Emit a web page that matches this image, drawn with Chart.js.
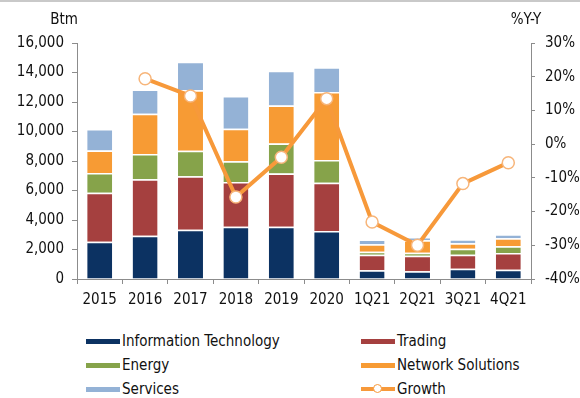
<!DOCTYPE html>
<html>
<head>
<meta charset="utf-8">
<script src="https://cdn.jsdelivr.net/npm/chart.js@4.4.1/dist/chart.umd.min.js"></script>
<style>
  html, body { margin: 0; padding: 0; background: #fff; overflow: hidden; }
  body { width: 580px; height: 398px; position: relative; border-top: 2px solid #c9c9c9; box-sizing: border-box; }
  #wrap { position: absolute; left: 0; top: 0; width: 580px; height: 317px; }
  #legend { position: absolute; left: 86px; top: 327px; display: grid; grid-template-columns: 275px 200px;
            font-family: 'DejaVu Sans Condensed', 'DejaVu Sans', sans-serif; font-size: 15px; color: #111; }
  .item { height: 24px; display: flex; align-items: center; }
  .sw { width: 34px; height: 5px; margin-right: 2px; position: relative; }
  .dot { position: absolute; left: 12px; top: -3px; width: 7px; height: 7px; border-radius: 50%;
         background: #fff; border: 1px solid #f7993a; }
</style>
</head>
<body>
<div id="wrap"><canvas id="mixchart"></canvas></div>
<div id="legend"></div>
<script>
const labels = ['2015', '2016', '2017', '2018', '2019', '2020', '1Q21', '2Q21', '3Q21', '4Q21'];

// revenue by segment, Btm
const infoTech = [2530, 2940, 3340, 3550, 3550, 3250, 600, 520, 700, 630];
const trading = [3320, 3820, 3620, 3030, 3610, 3280, 1050, 1060, 950, 1130];
const energy = [1340, 1710, 1740, 1400, 2020, 1540, 200, 200, 400, 460];
const networkSolutions = [1530, 2740, 4090, 2210, 2590, 4610, 500, 840, 370, 540];
const services = [1450, 1630, 1940, 2220, 2350, 1670, 320, 230, 270, 270];

// growth, %Y-Y
const growth = [null, 19.4, 14.3, -15.7, -3.9, 13.5, -23.1, -30.0, -11.7, -5.5];

const FONT = "'DejaVu Sans Condensed', 'DejaVu Sans', sans-serif";
const TEXT = '#111111';
const AXIS = '#8c8c8c';

function barSet(label, values, color) {
  return {
    type: 'bar',
    label: label,
    data: values,
    backgroundColor: color,
    borderColor: '#ffffff',
    borderWidth: { top: 1.5, bottom: 0, left: 0, right: 0 },
    borderSkipped: false,
    yAxisID: 'y',
    stack: 'rev',
    order: 1,
    barPercentage: 0.55,
    categoryPercentage: 1
  };
}

// unit captions above each y axis
const unitLabels = {
  id: 'unitLabels',
  afterDraw(chart) {
    const ctx = chart.ctx;
    const area = chart.chartArea;
    ctx.save();
    ctx.font = '15px ' + FONT;
    ctx.fillStyle = TEXT;
    ctx.textAlign = 'center';
    ctx.textBaseline = 'middle';
    ctx.fillText('Btm', area.left - 13, 18);
    ctx.fillText('%Y-Y', area.right - 5, 18);
    ctx.restore();
  }
};

const ctx = document.getElementById('mixchart').getContext('2d');
const chart = new Chart(ctx, {
  data: {
    labels: labels,
    datasets: [
      barSet('Information Technology', infoTech, '#0c3262'),
      barSet('Trading', trading, '#a5403f'),
      barSet('Energy', energy, '#86a34a'),
      barSet('Network Solutions', networkSolutions, '#f79b34'),
      barSet('Services', services, '#94b2d6'),
      {
        type: 'line',
        label: 'Growth',
        data: growth,
        yAxisID: 'y1',
        borderColor: '#f7993a',
        borderWidth: 4,
        pointRadius: 6,
        pointBackgroundColor: '#ffffff',
        pointBorderColor: '#f7b57a',
        pointBorderWidth: 1.5,
        tension: 0,
        order: 0
      }
    ]
  },
  options: {
    responsive: true,
    maintainAspectRatio: false,
    animation: false,
    layout: { padding: { top: 41, bottom: 3, left: 0, right: 0 } },
    plugins: {
      legend: { display: false },
      tooltip: { enabled: false }
    },
    scales: {
      x: {
        stacked: true,
        offset: true,
        grid: { display: true, drawOnChartArea: false, offset: true, tickLength: 5, color: AXIS },
        border: { display: true, color: AXIS },
        ticks: { color: TEXT, font: { family: FONT, size: 15 }, padding: 7, maxRotation: 0, autoSkip: false }
      },
      y: {
        stacked: true,
        position: 'left',
        min: 0,
        max: 16000,
        grid: { display: true, drawOnChartArea: false, tickLength: 5, color: AXIS },
        border: { display: true, color: AXIS },
        ticks: {
          stepSize: 2000,
          color: TEXT,
          padding: 8,
          font: { family: FONT, size: 15 },
          callback: v => v.toLocaleString('en-US')
        },
        afterFit: scale => { scale.width = 77; }
      },
      y1: {
        position: 'right',
        min: -40,
        max: 30,
        grid: { display: true, drawOnChartArea: false, tickLength: 4, color: AXIS },
        border: { display: true, color: AXIS },
        ticks: {
          stepSize: 10,
          color: TEXT,
          padding: 10,
          font: { family: FONT, size: 15 },
          callback: v => v + '%'
        },
        afterFit: scale => { scale.width = 49; }
      }
    }
  },
  plugins: [unitLabels]
});

// two-column legend built from the chart's datasets
const legendOrder = [0, 1, 2, 3, 4, 5];
const legend = document.getElementById('legend');
legendOrder.forEach(i => {
  const ds = chart.data.datasets[i];
  const item = document.createElement('div');
  item.className = 'item';
  const sw = document.createElement('span');
  sw.className = 'sw';
  sw.style.background = ds.type === 'line' ? ds.borderColor : ds.backgroundColor;
  if (ds.type === 'line') {
    sw.style.height = '4px';
    const dot = document.createElement('span');
    dot.className = 'dot';
    sw.appendChild(dot);
  }
  item.appendChild(sw);
  item.appendChild(document.createTextNode(ds.label));
  legend.appendChild(item);
});
</script>
</body>
</html>
